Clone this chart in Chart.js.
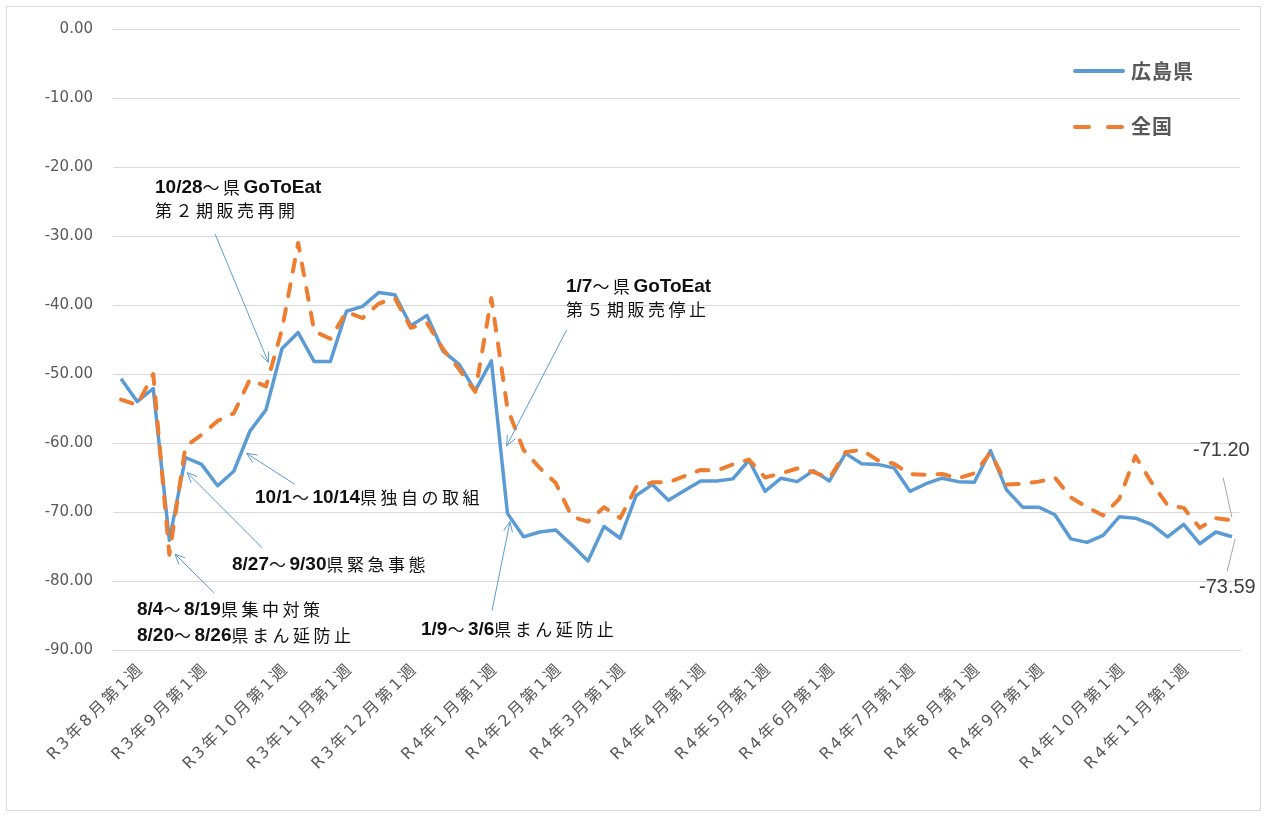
<!DOCTYPE html>
<html><head><meta charset="utf-8">
<script src="https://cdn.jsdelivr.net/npm/chart.js@4.4.1/dist/chart.umd.min.js"></script>
<style>html,body{margin:0;padding:0;background:#fff;}canvas{display:block;}</style>
</head><body>
<canvas id="c" width="1267" height="816" style="width:1267px;height:816px"></canvas>
<script>
// ---- categories ----
const months = ['R3年8月','R3年9月','R3年10月','R3年11月','R3年12月','R4年1月','R4年2月','R4年3月',
                'R4年4月','R4年5月','R4年6月','R4年7月','R4年8月','R4年9月','R4年10月','R4年11月'];
const weeksPerMonth = [4,5,4,4,5,4,4,5,4,4,5,4,4,5,4,5];
const categories = [];
months.forEach((m, i) => { for (let w = 1; w <= weeksPerMonth[i]; w++) categories.push(m + '第' + w + '週'); });

// ---- series ----
const seriesNames = ['広島県', '全国'];
const hiroshima = [
  -50.7,-54.0,-52.1,-74.1,-62.1,-63.1,-66.2,-64.1,-58.3,-55.2,
  -46.3,-44.0,-48.2,-48.2,-40.9,-40.2,-38.2,-38.5,-43.0,-41.5,
  -46.7,-48.6,-52.4,-48.1,-70.2,-73.6,-72.9,-72.6,-74.8,-77.1,
  -72.1,-73.8,-67.6,-66.0,-68.3,-66.9,-65.5,-65.5,-65.2,-62.5,
  -67.0,-65.1,-65.6,-64.0,-65.5,-61.5,-63.0,-63.1,-63.6,-67.0,
  -65.9,-65.1,-65.6,-65.7,-61.1,-66.8,-69.3,-69.3,-70.4,-73.9,
  -74.4,-73.4,-70.7,-70.9,-71.8,-73.6,-71.8,-74.6,-72.9,-73.59
];
const zenkoku = [
  -53.7,-54.5,-50.0,-76.2,-60.5,-58.8,-56.8,-55.7,-50.8,-51.8,
  -43.5,-31.0,-43.8,-44.9,-41.0,-41.9,-39.8,-39.0,-43.3,-42.6,
  -46.4,-49.3,-52.6,-39.0,-55.0,-61.0,-63.6,-65.8,-70.7,-71.4,
  -69.3,-70.9,-66.4,-65.7,-65.7,-64.8,-63.9,-64.0,-63.1,-62.4,
  -65.0,-64.4,-63.7,-64.2,-65.1,-61.3,-61.0,-62.5,-63.0,-64.5,
  -64.6,-64.5,-65.1,-64.4,-61.4,-66.0,-65.9,-65.6,-65.0,-67.9,
  -69.3,-70.5,-68.1,-61.9,-65.7,-69.0,-69.4,-72.3,-70.9,-71.2
];
const yMin = -90, yMax = 0, yStep = 10;

// ---- annotations (text in canvas px, arrows in data coords [index, value]) ----
const notes = [
  { lines: ['10/28～県GoToEat', '第２期販売再開'], x: 155, y: [188, 211] },
  { lines: ['1/7～県GoToEat', '第５期販売停止'], x: 566, y: [287, 310] },
  { lines: ['10/1～10/14県独自の取組'], x: 255, y: [498] },
  { lines: ['8/27～9/30県緊急事態'], x: 232, y: [565] },
  { lines: ['8/4～8/19県集中対策', '8/20～8/26県まん延防止'], x: 137, y: [610, 636] },
  { lines: ['1/9～3/6県まん延防止'], x: 421, y: [630] }
];
const arrows = [
  { from: [5.84, -29.7], to: [9.15, -48.3] },
  { from: [10.8, -66.0], to: [7.80, -61.5] },
  { from: [8.77, -75.2], to: [4.11, -64.3] },
  { from: [5.77, -81.7], to: [3.35, -76.1] },
  { from: [27.68, -43.6], to: [23.95, -60.4] },
  { from: [23.04, -84.3], to: [24.16, -71.4] }
];

const BLUE = '#5b9bd5', ORANGE = '#ed7d31';

function drawMixed(ctx, text, x, y) {
  const runs = text.match(/[\x21-\x7e]+|[^\x21-\x7e]+/g);
  let cx = x;
  for (const r of runs) {
    const ascii = /^[\x21-\x7e]/.test(r);
    ctx.font = ascii ? 'bold 19px "Liberation Sans"' : '17px "Noto Sans CJK JP"';
    ctx.letterSpacing = ascii ? '0px' : '3.5px';
    ctx.fillText(r, cx, y);
    cx += ctx.measureText(r).width;
  }
  ctx.letterSpacing = '0px';
}
function arrow(ctx, x1, y1, x2, y2) {
  ctx.beginPath(); ctx.moveTo(x1, y1); ctx.lineTo(x2, y2); ctx.stroke();
  const a = Math.atan2(y2 - y1, x2 - x1), L = 11, s = 0.42;
  ctx.beginPath();
  ctx.moveTo(x2 - L * Math.cos(a - s), y2 - L * Math.sin(a - s));
  ctx.lineTo(x2, y2);
  ctx.lineTo(x2 - L * Math.cos(a + s), y2 - L * Math.sin(a + s));
  ctx.stroke();
}

const overlay = {
  id: 'overlay',
  beforeDraw(chart) {
    const s = chart.scales.x;
    if (!s._lsPatched) {
      const orig = s.drawLabels;
      s.drawLabels = function (area) {
        const c = this.ctx; const prev = c.letterSpacing;
        c.letterSpacing = '3px'; orig.call(this, area); c.letterSpacing = prev;
      };
      s._lsPatched = true;
    }
  },
  afterDraw(chart) {
    const ctx = chart.ctx, xs = chart.scales.x, ys = chart.scales.y;
    ctx.save();
    // frame
    ctx.strokeStyle = '#d9d9d9'; ctx.lineWidth = 1;
    ctx.strokeRect(6.5, 6.5, 1254, 804);
    // arrows
    ctx.strokeStyle = BLUE; ctx.lineWidth = 1;
    arrows.forEach(a => arrow(ctx, xs.getPixelForValue(a.from[0]), ys.getPixelForValue(a.from[1]),
                                   xs.getPixelForValue(a.to[0]), ys.getPixelForValue(a.to[1])));
    // notes
    ctx.fillStyle = '#111'; ctx.textBaseline = 'middle'; ctx.textAlign = 'left';
    notes.forEach(n => n.lines.forEach((t, i) => drawMixed(ctx, t, n.x, n.y[i])));
    // last-value labels with leader lines
    const last = categories.length - 1;
    ctx.strokeStyle = '#a6a6a6'; ctx.lineWidth = 1;
    ctx.beginPath();
    ctx.moveTo(xs.getPixelForValue(last - 0.55), ys.getPixelForValue(-65.0));
    ctx.lineTo(xs.getPixelForValue(last), ys.getPixelForValue(zenkoku[last] + 0.4));
    ctx.moveTo(xs.getPixelForValue(last - 0.3), ys.getPixelForValue(-78.6));
    ctx.lineTo(xs.getPixelForValue(last + 0.2), ys.getPixelForValue(hiroshima[last] - 0.3));
    ctx.stroke();
    ctx.fillStyle = '#404040'; ctx.font = '20px "Liberation Sans"'; ctx.textAlign = 'left';
    ctx.fillText(zenkoku[last].toFixed(2), 1193, 450);
    ctx.fillText(hiroshima[last].toFixed(2), 1199, 587);
    // legend
    ctx.lineCap = 'round';
    ctx.strokeStyle = BLUE; ctx.lineWidth = 4;
    ctx.beginPath(); ctx.moveTo(1075, 71); ctx.lineTo(1123, 71); ctx.stroke();
    ctx.strokeStyle = ORANGE;
    ctx.beginPath(); ctx.moveTo(1075, 127); ctx.lineTo(1089, 127); ctx.moveTo(1108, 127); ctx.lineTo(1122, 127); ctx.stroke();
    ctx.fillStyle = '#595959'; ctx.font = 'bold 20px "Noto Sans CJK JP"'; ctx.letterSpacing = '1px';
    ctx.fillText(seriesNames[0], 1131, 71);
    ctx.fillText(seriesNames[1], 1131, 126);
    ctx.restore();
  }
};

new Chart(document.getElementById('c'), {
  type: 'line',
  data: {
    labels: categories,
    datasets: [
      { label: seriesNames[0], data: hiroshima, borderColor: BLUE, backgroundColor: BLUE, borderWidth: 3.5,
        pointRadius: 0, tension: 0, borderJoinStyle: 'round', order: 1 },
      { label: seriesNames[1], data: zenkoku, borderColor: ORANGE, backgroundColor: ORANGE, borderWidth: 4,
        borderDash: [12, 13], borderCapStyle: 'round', borderJoinStyle: 'round', pointRadius: 0, tension: 0, order: 0 }
    ]
  },
  options: {
    responsive: false, animation: false, devicePixelRatio: 1,
    layout: { padding: { top: 20, right: 27, left: 0, bottom: 0 } },
    plugins: { legend: { display: false }, tooltip: { enabled: false } },
    scales: {
      x: {
        offset: true,
        grid: { display: false },
        border: { display: true, color: '#d9d9d9' },
        ticks: {
          autoSkip: false, minRotation: 45, maxRotation: 45, padding: 1, labelOffset: 21,
          color: '#595959', font: { family: '"DejaVu Sans", "Noto Sans CJK JP", sans-serif', size: 16 },
          callback: (v, i) => categories[i].endsWith('第1週') ? categories[i] : ''
        },
        afterFit: s => { s.height = 166; }
      },
      y: {
        min: yMin, max: yMax,
        grid: { color: '#d9d9d9', drawTicks: false },
        border: { display: false },
        ticks: {
          stepSize: yStep, padding: 20, color: '#595959',
          font: { family: '"DejaVu Sans", sans-serif', size: 15 },
          callback: v => Number(v).toFixed(2)
        },
        afterFit: s => { s.width = 113; }
      }
    }
  },
  plugins: [overlay]
});
</script>
</body></html>
